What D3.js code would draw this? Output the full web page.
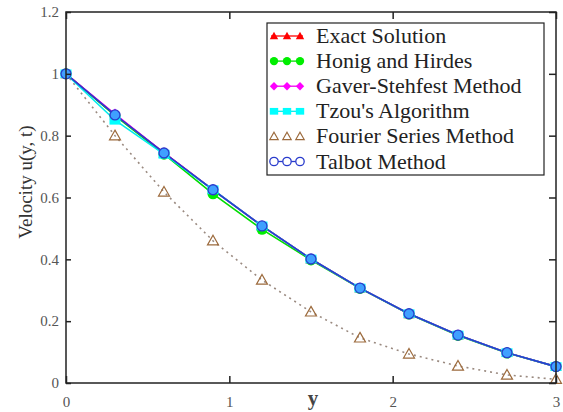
<!DOCTYPE html>
<html><head><meta charset="utf-8">
<script src="https://cdn.jsdelivr.net/npm/d3@7"></script>
<style>body{margin:0;background:#fff}svg{display:block}
svg text{font-family:"Liberation Serif","DejaVu Serif",serif;}</style>
</head><body>
<svg id="c" width="563" height="412"></svg>
<script>
const yPos = [0, 0.3, 0.6, 0.9, 1.2, 1.5, 1.8, 2.1, 2.4, 2.7, 3.0];
const exact   = [1, 0.867, 0.744, 0.625, 0.508, 0.401, 0.307, 0.224, 0.155, 0.098, 0.053];
const honig   = [1, 0.865, 0.740, 0.612, 0.497, 0.398, 0.306, 0.223, 0.154, 0.097, 0.053];
const gaver   = [1, 0.870, 0.744, 0.625, 0.508, 0.401, 0.307, 0.224, 0.155, 0.098, 0.053];
const tzou    = [1, 0.850, 0.740, 0.625, 0.508, 0.401, 0.307, 0.224, 0.155, 0.098, 0.053];
const fourier = [1, 0.800, 0.618, 0.460, 0.333, 0.230, 0.146, 0.094, 0.055, 0.026, 0.012];
const talbot  = [1, 0.867, 0.744, 0.625, 0.508, 0.401, 0.307, 0.224, 0.155, 0.098, 0.053];
const xTicks = [0, 1, 2, 3];
const yTicks = [0, 0.2, 0.4, 0.6, 0.8, 1, 1.2];
const legendLabels = ["Exact Solution", "Honig and Hirdes", "Gaver-Stehfest Method", "Tzou's Algorithm", "Fourier Series Method", "Talbot Method"];

const svg = d3.select("#c");
const L = 66, R = 556, T = 12, B = 383;
const x = d3.scaleLinear().domain([0, 3]).range([L, R]);
const y = d3.scaleLinear().domain([0, 1.2]).range([B, T]);
const font = "Liberation Serif, DejaVu Serif, serif";

const series = [
  {name: legendLabels[0], vals: exact, color: "#ff0000", sym: "tri", fill: "#ff0000", line: "#ff0000", dash: null},
  {name: legendLabels[1], vals: honig, color: "#00ee00", sym: "circ", fill: "#00ee00", line: "#00dd00", dash: null},
  {name: legendLabels[2], vals: gaver, color: "#ff00ff", sym: "dia", fill: "#ff00ff", line: "#ee00ee", dash: null},
  {name: legendLabels[3], vals: tzou, color: "#00ffff", sym: "sq", fill: "#00ffff", line: "#00eeee", dash: null},
  {name: legendLabels[4], vals: fourier, color: "#9c6a3c", sym: "otri", fill: "none", line: "#9a8a80", dash: "2,4"},
  {name: legendLabels[5], vals: talbot, color: "#2a3ccc", sym: "ocirc", fill: "#3fa0ff", line: "#2a3ccc", dash: null}
];

function drawSym(g, s, cx, cy, sz, legend) {
  const r = sz;
  if (s.sym === "tri") {
    g.append("path").attr("d", `M${cx},${cy-r}L${cx+r},${cy+r*0.8}L${cx-r},${cy+r*0.8}Z`).attr("fill", s.fill);
  } else if (s.sym === "circ") {
    g.append("circle").attr("cx", cx).attr("cy", cy).attr("r", r).attr("fill", s.fill);
  } else if (s.sym === "dia") {
    g.append("path").attr("d", `M${cx},${cy-r}L${cx+r},${cy}L${cx},${cy+r}L${cx-r},${cy}Z`).attr("fill", s.fill);
  } else if (s.sym === "sq") {
    g.append("rect").attr("x", cx-r).attr("y", cy-r*0.8).attr("width", 2*r).attr("height", 1.6*r).attr("fill", s.fill);
  } else if (s.sym === "otri") {
    g.append("path").attr("d", `M${cx},${cy-r}L${cx+r},${cy+r*0.75}L${cx-r},${cy+r*0.75}Z`).attr("fill", "none").attr("stroke", s.color).attr("stroke-width", 1.2);
  } else if (s.sym === "ocirc") {
    g.append("circle").attr("cx", cx).attr("cy", cy).attr("r", r).attr("fill", legend ? "#fff" : s.fill).attr("stroke", s.color).attr("stroke-width", 1.3);
  }
}

const line = d3.line().x((d, i) => x(yPos[i])).y(d => y(d));
const order = [4, 0, 1, 2, 3, 5];
order.forEach(k => {
  const s = series[k];
  svg.append("path").datum(s.vals).attr("d", line).attr("fill", "none")
    .attr("stroke", s.line).attr("stroke-width", 1.6)
    .attr("stroke-dasharray", s.dash);
});
order.forEach(k => {
  const s = series[k];
  const g = svg.append("g");
  s.vals.forEach((v, i) => {
    if (k === 4 && i === 0) return;
    drawSym(g, s, x(yPos[i]), y(v), k === 5 ? 5 : 5.5, false);
  });
});

svg.append("rect").attr("x", L).attr("y", T).attr("width", R-L).attr("height", B-T)
  .attr("fill", "none").attr("stroke", "#222").attr("stroke-width", 1.5);

const xb = svg.append("g").attr("transform", `translate(0,${B})`)
  .call(d3.axisBottom(x).tickValues(xTicks).tickSizeInner(-7).tickSizeOuter(0).tickPadding(12).tickFormat(d3.format("d")));
const xt = svg.append("g").attr("transform", `translate(0,${T})`)
  .call(d3.axisTop(x).tickValues(xTicks).tickSizeInner(-7).tickSizeOuter(0).tickFormat(""));
const yl = svg.append("g").attr("transform", `translate(${L},0)`)
  .call(d3.axisLeft(y).tickValues(yTicks).tickSizeInner(-5).tickSizeOuter(0).tickPadding(7).tickFormat(d => String(+d.toFixed(1))));
const yr = svg.append("g").attr("transform", `translate(${R},0)`)
  .call(d3.axisRight(y).tickValues(yTicks).tickSizeInner(-7).tickSizeOuter(0).tickFormat(""));
[xb, xt, yl, yr].forEach(g => {
  g.attr("font-family", null);
  g.select(".domain").remove();
  g.selectAll("line").attr("stroke", "#222").attr("stroke-width", 1.5);
  g.selectAll("text").attr("font-family", font).attr("font-size", 15).attr("fill", "#555");
});
xb.selectAll("text").attr("dy", "0.8em");

svg.append("text").attr("x", 313).attr("y", 405).attr("text-anchor", "middle")
  .attr("font-family", font).attr("font-size", 21).attr("font-weight", "bold").attr("fill", "#444").text("y");
svg.append("text").attr("transform", "translate(32,182) rotate(-90)").attr("text-anchor", "middle")
  .attr("font-family", font).attr("font-size", 19).attr("fill", "#333").text("Velocity u(y, t)");

const lg = svg.append("g");
lg.append("rect").attr("x", 267).attr("y", 23).attr("width", 277).attr("height", 152)
  .attr("fill", "#fff").attr("stroke", "#222").attr("stroke-width", 1.2);
series.forEach((s, i) => {
  const cy = 36 + i * 25.1;
  if (s.dash === null) {
    lg.append("line").attr("x1", 271).attr("x2", 303).attr("y1", cy).attr("y2", cy).attr("stroke", s.line).attr("stroke-width", 1.3);
  }
  [274, 287, 300].forEach(cx => drawSym(lg, s, cx, cy, 4.2, true));
  lg.append("text").attr("x", 316).attr("y", cy + 7).attr("font-family", font).attr("font-size", 22)
    .attr("fill", "#222").text(s.name);
});
</script>
</body></html>
